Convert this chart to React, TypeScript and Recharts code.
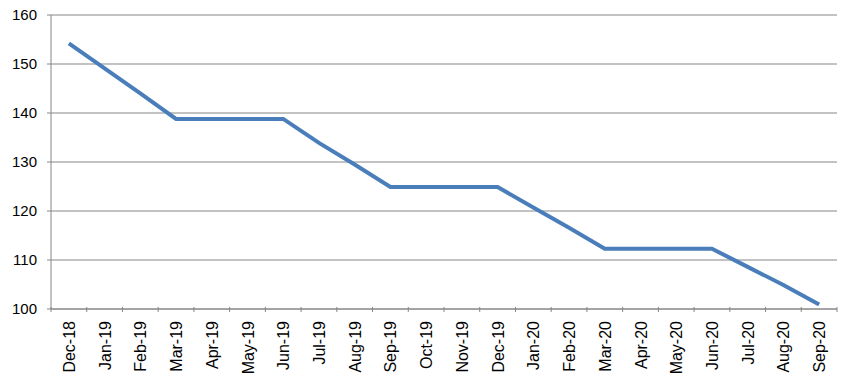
import React from "react";
import { LineChart, Line, XAxis, YAxis, CartesianGrid } from "recharts";

const months = [
  "Dec-18", "Jan-19", "Feb-19", "Mar-19", "Apr-19", "May-19", "Jun-19", "Jul-19",
  "Aug-19", "Sep-19", "Oct-19", "Nov-19", "Dec-19", "Jan-20", "Feb-20", "Mar-20",
  "Apr-20", "May-20", "Jun-20", "Jul-20", "Aug-20", "Sep-20",
];
const values = [
  154.2, 149.1, 144.0, 138.8, 138.8, 138.8, 138.8, 133.9, 129.5, 124.9, 124.9,
  124.9, 124.9, 120.7, 116.6, 112.3, 112.3, 112.3, 112.3, 108.6, 104.9, 100.9,
];
const yTicks = [100, 110, 120, 130, 140, 150, 160];

const data = months.map((m, i) => ({ month: m, value: values[i] }));

const W = 851;
const H = 383;
const LEFT = 51;
const RIGHT = 14;
const BAND = (W - LEFT - RIGHT) / months.length;

const XTick = (props: any) => {
  const { x, y, payload, index } = props;
  const half = BAND / 2;
  return (
    <g>
      {index === 0 && (
        <line x1={x - half} x2={x - half} y1={y - 8} y2={y - 3} stroke="#868686" />
      )}
      <line x1={x + half} x2={x + half} y1={y - 8} y2={y - 3} stroke="#868686" />
      <text
        x={x}
        y={y}
        transform={`rotate(-90, ${x}, ${y})`}
        dx={-6}
        dy={6}
        textAnchor="end"
        fontSize={16}
        fontFamily="Liberation Sans, Arial, sans-serif"
        fill="#000"
      >
        {payload.value}
      </text>
    </g>
  );
};

export default function App() {
  return (
    <div style={{ position: "absolute", left: 0, top: 0, width: W, height: H, background: "#fff" }}>
      <LineChart
        width={W}
        height={H}
        data={data}
        margin={{ top: 15, right: RIGHT, bottom: 0, left: 0 }}
      >
        <CartesianGrid vertical={false} stroke="#868686" strokeWidth={1} />
        <XAxis
          dataKey="month"
          scale="band"
          interval={0}
          height={74}
          tickLine={false}
          axisLine={{ stroke: "#868686" }}
          tick={<XTick />}
          tickMargin={0}
        />
        <YAxis
          domain={[100, 160]}
          ticks={yTicks}
          width={LEFT}
          tickSize={4}
          tickLine={{ stroke: "#868686" }}
          axisLine={{ stroke: "#868686" }}
          tick={{ fontSize: 15, fill: "#000", fontFamily: "Liberation Sans, Arial, sans-serif" }}
          tickMargin={10}
        />
        <Line
          type="linear"
          dataKey="value"
          stroke="#4a7ebb"
          strokeWidth={4}
          dot={false}
          isAnimationActive={false}
        />
      </LineChart>
    </div>
  );
}
